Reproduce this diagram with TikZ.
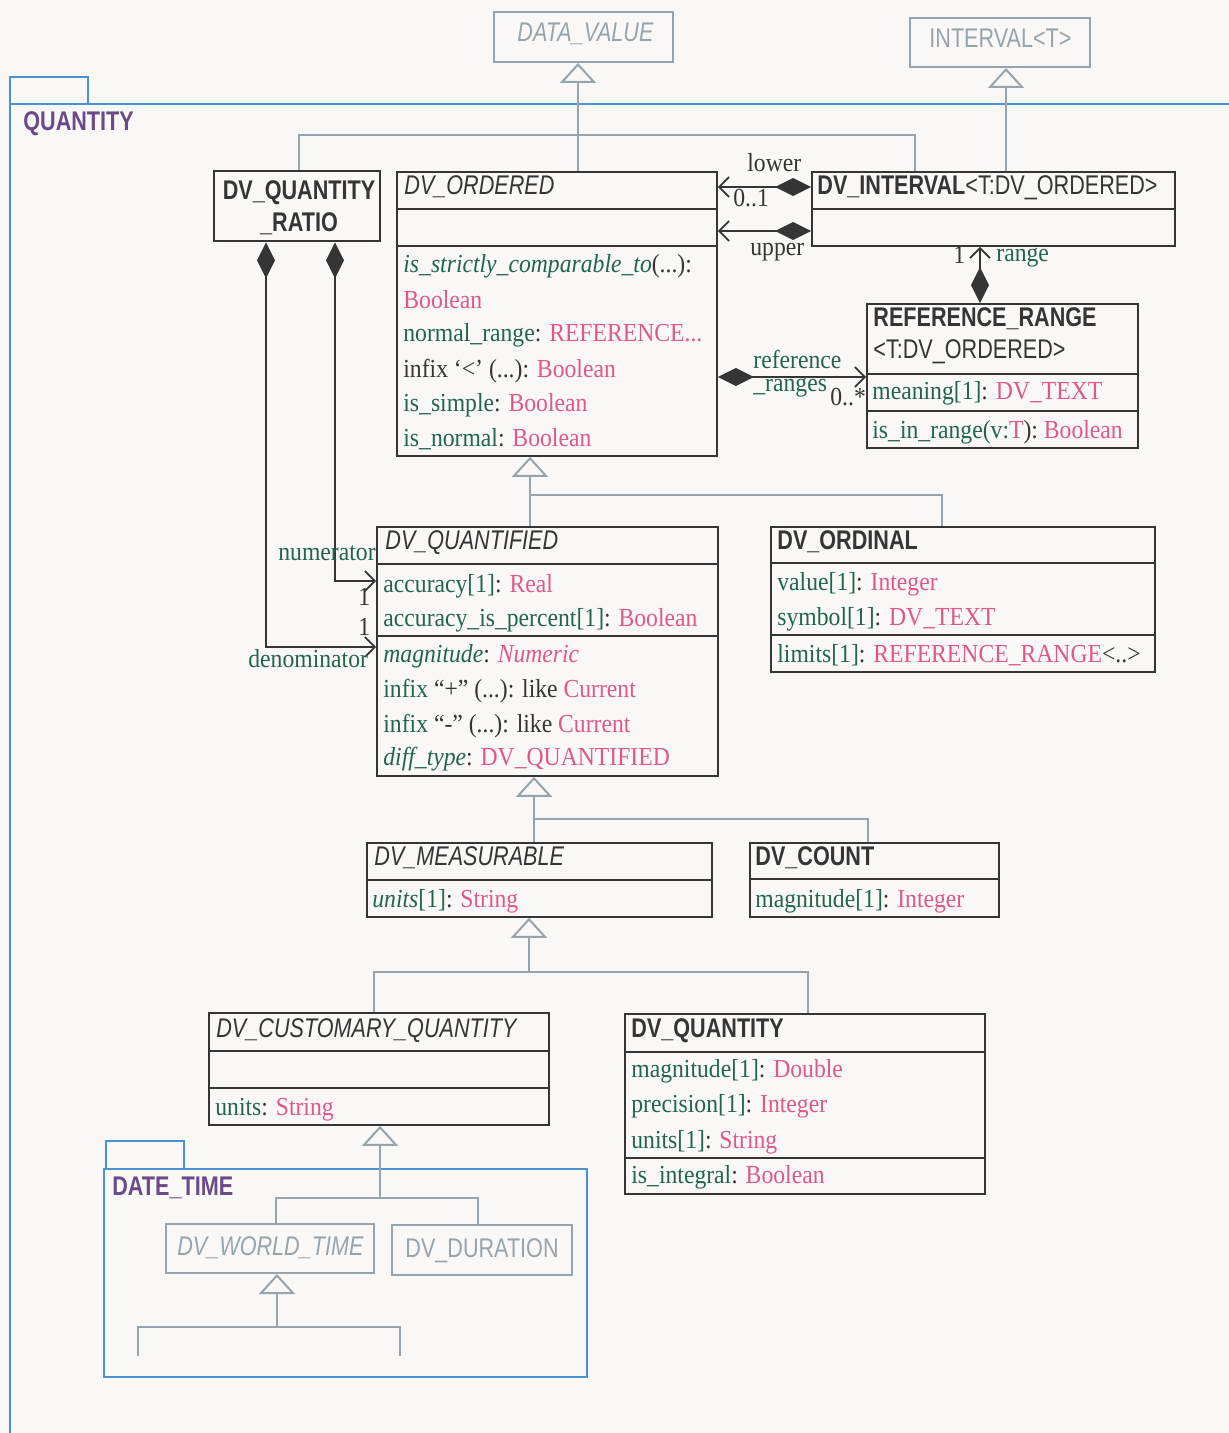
\documentclass[tikz,border=0pt]{standalone}
\usepackage{fontspec}
\setmainfont{Liberation Serif}[FakeStretch=0.91]
\newfontfamily\clsfont{Liberation Sans}[FakeStretch=0.8]
\usetikzlibrary{positioning,fit,arrows.meta}

\definecolor{bgcol}{HTML}{F9F8F6}
\definecolor{inkcol}{HTML}{353535}
\definecolor{namecol}{HTML}{21664A}
\definecolor{typecol}{HTML}{E0588A}
\definecolor{greycol}{HTML}{98A4AC}
\definecolor{pkgcol}{HTML}{4A92D2}
\definecolor{pkgtext}{HTML}{6A4A88}

\newcommand{\nme}[1]{\textcolor{namecol}{#1}}
\newcommand{\typ}[1]{\textcolor{typecol}{#1}}

\begin{document}
\begin{tikzpicture}
	[x=0.5pt,y=-0.5pt,
	 cls/.style={rectangle,draw=inkcol,line width=0.8pt,inner sep=0pt},
	 ext/.style={rectangle,draw=greycol,line width=1pt,inner sep=0pt},
	 title/.style={anchor=base west,inner sep=0pt,text=inkcol,font=\clsfont\fontsize{13.5}{16}\selectfont},
	 abstitle/.style={title,font=\clsfont\itshape\fontsize{13.5}{16}\selectfont},
	 contitle/.style={title,font=\clsfont\bfseries\fontsize{13.5}{16}\selectfont},
	 pkgname/.style={contitle,text=pkgtext},
	 attr/.style={anchor=base west,inner sep=0pt,text=inkcol,font=\fontsize{13}{15}\selectfont},
	 role/.style={attr,text=namecol},
	 sep/.style={draw=inkcol,line width=0.8pt},
	 pkg/.style={draw=pkgcol,line width=1pt},
	 inh/.style={draw=greycol,line width=1pt},
	 gen/.style={inh,-{Triangle[open,length=10pt,width=18pt]}},
	 comp/.style={draw=inkcol,line width=0.9pt,{Diamond[length=18pt,width=9pt]}-{Straight Barb[length=5pt,width=10pt]}}]
	\fill[bgcol] (0,0) rectangle (1229,1433);
	\useasboundingbox (0,0) rectangle (1229,1433);
	% packages
	\draw[pkg] (10,1433) -- (10,77) -- (88,77) -- (88,104);
	\draw[pkg] (10,104) -- (1229,104);
	\draw[pkg] (104,1169) rectangle (587,1377);
	\draw[pkg] (106,1169) -- (106,1141) -- (184,1141) -- (184,1169);
	\node[pkgname] (quantityP) at (23,131) {QUANTITY};
	\node[pkgname] (datetimeP) at (112,1195) {DATE\_TIME};
	% classes
	\node[ext,fit={(494,12) (673,62)}] (dvalue) {};
	\node[abstitle,text=greycol] (dvalueT) at (517,42) {DATA\_VALUE};
	\node[ext,fit={(910,18) (1090,67)}] (intv) {};
	\node[title,text=greycol] (intvT) at (929,48) {INTERVAL<T>};
	\node[cls,line width=1.4pt,fit={(214,171) (380,241)}] (ratio) {};
	\node[contitle,anchor=base] (ratioT1) at (299,200) {DV\_QUANTITY};
	\node[contitle,anchor=base] (ratioT2) at (299,232) {\_RATIO};
	\node[cls,fit={(397,172) (717,456)}] (ordered) {};
	\node[abstitle] (orderedT) at (404,195) {DV\_ORDERED};
	\node[cls,fit={(812,172) (1175,246)}] (interval) {};
	\node[contitle] (intervalT) at (817,195) {DV\_INTERVAL{\mdseries<T:DV\_ORDERED>}};
	\node[cls,fit={(867,304) (1138,448)}] (refrange) {};
	\node[contitle] (refrangeT1) at (873,327) {REFERENCE\_RANGE};
	\node[title] (refrangeT2) at (873,358) {<T:DV\_ORDERED>};
	\node[cls,fit={(377,527) (718,776)}] (quantified) {};
	\node[abstitle] (quantifiedT) at (385,549) {DV\_QUANTIFIED};
	\node[cls,fit={(771,527) (1155,672)}] (ordinal) {};
	\node[contitle] (ordinalT) at (777,549) {DV\_ORDINAL};
	\node[cls,fit={(367,843) (712,917)}] (measurable) {};
	\node[abstitle] (measurableT) at (374,865) {DV\_MEASURABLE};
	\node[cls,fit={(750,843) (999,917)}] (count) {};
	\node[contitle] (countT) at (755,865) {DV\_COUNT};
	\node[cls,fit={(209,1013) (549,1125)}] (customary) {};
	\node[abstitle] (customaryT) at (216,1037) {DV\_CUSTOMARY\_QUANTITY};
	\node[cls,fit={(625,1014) (985,1194)}] (quantity) {};
	\node[contitle] (quantityT) at (631,1037) {DV\_QUANTITY};
	\node[ext,fit={(166,1224) (374,1273)}] (worldtime) {};
	\node[abstitle,text=greycol] (worldtimeT) at (177,1255) {DV\_WORLD\_TIME};
	\node[ext,fit={(392,1225) (572,1275)}] (duration) {};
	\node[title,text=greycol] (durationT) at (405,1257) {DV\_DURATION};
	% compartments
	\draw[sep] (ordered.west |- 0,209) -- (ordered.east |- 0,209);
	\draw[sep] (ordered.west |- 0,246) -- (ordered.east |- 0,246);
	\draw[sep] (interval.west |- 0,209) -- (interval.east |- 0,209);
	\draw[sep] (refrange.west |- 0,374) -- (refrange.east |- 0,374);
	\draw[sep] (refrange.west |- 0,411) -- (refrange.east |- 0,411);
	\draw[sep] (quantified.west |- 0,564) -- (quantified.east |- 0,564);
	\draw[sep] (quantified.west |- 0,636) -- (quantified.east |- 0,636);
	\draw[sep] (ordinal.west |- 0,563) -- (ordinal.east |- 0,563);
	\draw[sep] (ordinal.west |- 0,635) -- (ordinal.east |- 0,635);
	\draw[sep] (measurable.west |- 0,880) -- (measurable.east |- 0,880);
	\draw[sep] (count.west |- 0,879) -- (count.east |- 0,879);
	\draw[sep] (customary.west |- 0,1051) -- (customary.east |- 0,1051);
	\draw[sep] (customary.west |- 0,1088) -- (customary.east |- 0,1088);
	\draw[sep] (quantity.west |- 0,1052) -- (quantity.east |- 0,1052);
	\draw[sep] (quantity.west |- 0,1158) -- (quantity.east |- 0,1158);
	% attributes
	\node[attr] (ordA1) at (403,273) {\nme{\textit{is\_strictly\_comparable\_to}}(...):};
	\node[attr] (ordA2) at (403,308) {\typ{Boolean}};
	\node[attr] (ordA3) at (403,342) {\nme{normal\_range}: \typ{REFERENCE...}};
	\node[attr] (ordA4) at (403,377) {infix ‘<’ (...): \typ{Boolean}};
	\node[attr] (ordA5) at (403,411) {\nme{is\_simple}: \typ{Boolean}};
	\node[attr] (ordA6) at (403,446) {\nme{is\_normal}: \typ{Boolean}};
	\node[attr] (rrA1) at (872,399) {\nme{meaning[1]}: \typ{DV\_TEXT}};
	\node[attr] (rrA2) at (872,438) {\nme{is\_in\_range(v:}\typ{T}): \typ{Boolean}};
	\node[attr] (qfA1) at (383,592) {\nme{accuracy[1]}: \typ{Real}};
	\node[attr] (qfA2) at (383,626) {\nme{accuracy\_is\_percent[1]}: \typ{Boolean}};
	\node[attr] (qfA3) at (383,662) {\nme{\textit{magnitude}}: \typ{\textit{Numeric}}};
	\node[attr] (qfA4) at (383,697) {\nme{infix} “+” (...): like \typ{Current}};
	\node[attr] (qfA5) at (383,732) {\nme{infix} “-” (...): like \typ{Current}};
	\node[attr] (qfA6) at (383,765) {\nme{\textit{diff\_type}}: \typ{DV\_QUANTIFIED}};
	\node[attr] (ordlA1) at (777,590) {\nme{value[1]}: \typ{Integer}};
	\node[attr] (ordlA2) at (777,625) {\nme{symbol[1]}: \typ{DV\_TEXT}};
	\node[attr] (ordlA3) at (777,662) {\nme{limits[1]}: \typ{REFERENCE\_RANGE}<..>};
	\node[attr] (measA1) at (372,907) {\nme{\textit{units}[1]}: \typ{String}};
	\node[attr] (cntA1) at (755,907) {\nme{magnitude[1]}: \typ{Integer}};
	\node[attr] (custA1) at (215,1115) {\nme{units}: \typ{String}};
	\node[attr] (qtyA1) at (631,1077) {\nme{magnitude[1]}: \typ{Double}};
	\node[attr] (qtyA2) at (631,1112) {\nme{precision[1]}: \typ{Integer}};
	\node[attr] (qtyA3) at (631,1148) {\nme{units[1]}: \typ{String}};
	\node[attr] (qtyA4) at (631,1183) {\nme{is\_integral}: \typ{Boolean}};
	% inheritance
	\draw[gen] (ordered.north -| 578,0) -- (dvalue.south -| 578,0);
	\draw[inh] (ratio.north -| 299,0) -- (299,135) -- (915,135) -- (interval.north -| 915,0);
	\draw[gen] (interval.north -| 1006,0) -- (intv.south -| 1006,0);
	\draw[gen] (quantified.north -| 530,0) -- (ordered.south -| 530,0);
	\draw[inh] (530,495) -| (ordinal.north -| 942,0);
	\draw[gen] (measurable.north -| 534,0) -- (quantified.south -| 534,0);
	\draw[inh] (534,819) -| (count.north -| 868,0);
	\draw[gen] (529,972) -- (measurable.south -| 529,0);
	\draw[inh] (customary.north -| 374,0) |- (529,972) -| (quantity.north -| 808,0);
	\draw[gen] (380,1198) -- (customary.south -| 380,0);
	\draw[inh] (worldtime.north -| 276,0) |- (380,1198) -| (duration.north -| 478,0);
	\coordinate (wtsubA) at (138,1356);
	\coordinate (wtsubB) at (400,1356);
	\draw[inh] (wtsubA) |- (277,1327) -| (wtsubB);
	\draw[gen] (277,1327) -- (worldtime.south -| 277,0);
	% associations
	\draw[comp] (interval.west |- 0,187) -- (ordered.east |- 0,187);
	\draw[comp] (interval.west |- 0,231) -- (ordered.east |- 0,231);
	\draw[comp] (refrange.north -| 980,0) -- (interval.south -| 980,0);
	\draw[comp] (ordered.east |- 0,377) -- (refrange.west |- 0,377);
	\draw[comp] (ratio.south -| 335,0) |- (quantified.west |- 0,581);
	\draw[comp] (ratio.south -| 266,0) |- (quantified.west |- 0,647);
	\node[attr] (lowerL) at (747,172) {lower};
	\node[attr] (lowerM) at (733,207) {0..1};
	\node[attr] (upperL) at (750,256) {upper};
	\node[attr] (rangeM) at (953,264) {1};
	\node[role] (rangeL) at (996,262) {range};
	\node[role] (refL1) at (753,368) {reference};
	\node[role] (refL2) at (753,391) {\_ranges};
	\node[attr] (refM) at (830,405) {0..*};
	\node[role] (numL) at (278,560) {numerator};
	\node[attr] (numM) at (358,605) {1};
	\node[attr] (denM) at (358,635) {1};
	\node[role] (denL) at (248,667) {denominator};
\end{tikzpicture}
\end{document}
